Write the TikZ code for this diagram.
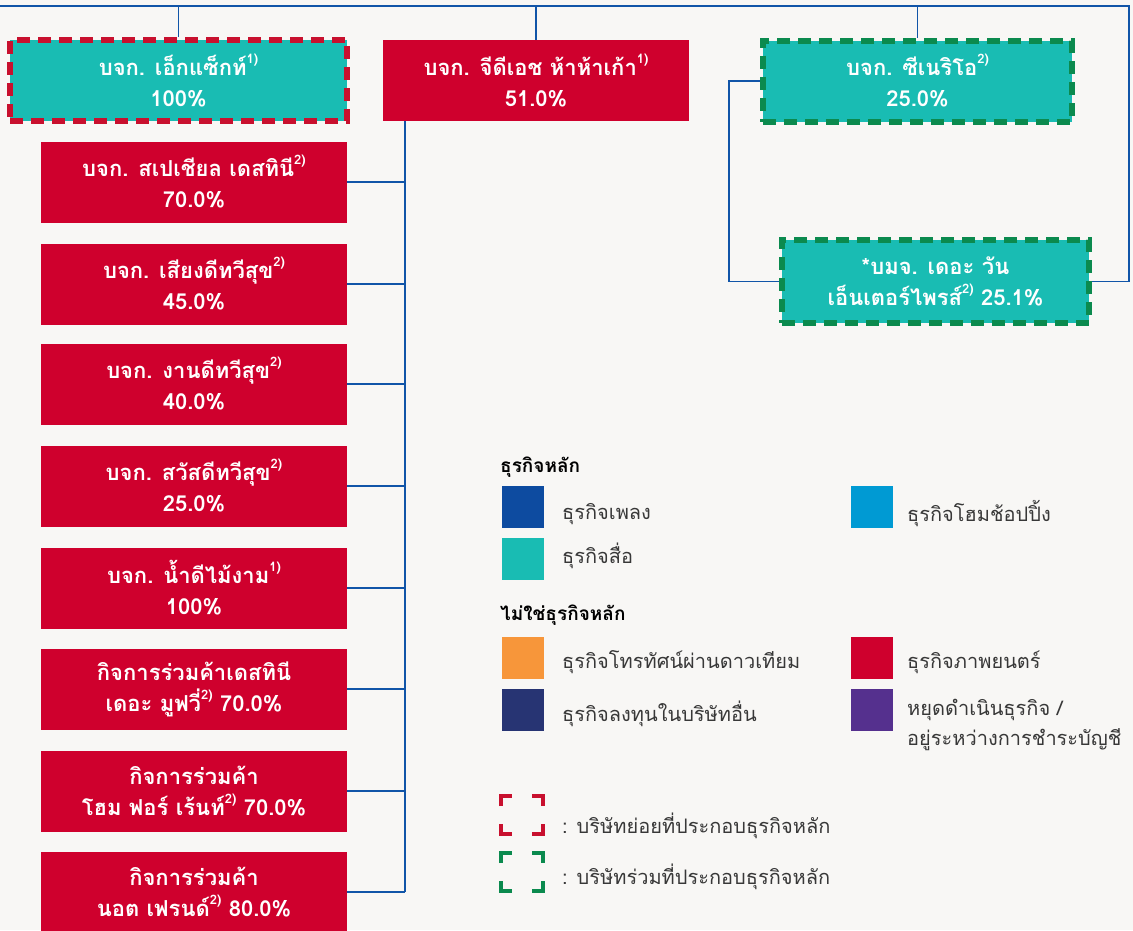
\documentclass[tikz,border=0pt]{standalone}
\usepackage{fontspec}
\setmainfont[Script=Thai]{Loma}
\usetikzlibrary{positioning}
\definecolor{bgc}{HTML}{F8F7F5}
\definecolor{teal}{HTML}{19BCB3}
\definecolor{mred}{HTML}{CF002D}
\definecolor{dred}{HTML}{C8102E}
\definecolor{dgreen}{HTML}{0B8A4E}
\definecolor{lblue}{HTML}{1155A8}
\definecolor{music}{HTML}{0D4BA0}
\definecolor{shop}{HTML}{009AD3}
\definecolor{sat}{HTML}{F7963A}
\definecolor{inv}{HTML}{273473}
\definecolor{stop}{HTML}{55308E}
\definecolor{txt}{HTML}{383838}
\newcommand{\sps}[1]{\raisebox{0.55em}{\fontsize{13}{13}\selectfont #1}}
\tikzset{
  box/.style={rectangle, inner sep=0pt, minimum width=306pt, minimum height=81pt,
     align=center, text=white, font=\fontsize{22}{31}\selectfont\bfseries},
  redbox/.style={box, fill=mred},
  subbox/.style={box, fill=teal, draw=dred, line width=6pt, dash pattern=on 13pt off 8pt},
  assocbox/.style={box, fill=teal, draw=dgreen, line width=6pt, dash pattern=on 13pt off 8pt},
  conn/.style={draw=lblue, line width=1.6pt},
  sq/.style={rectangle, inner sep=0pt, minimum width=42pt, minimum height=42pt},
  lg/.style={anchor=west, text=txt, font=\fontsize{20}{30}\selectfont, inner sep=0pt, align=left},
  lgh/.style={anchor=west, text=black, font=\fontsize{19}{24}\selectfont\bfseries, inner sep=0pt},
  corner/.style={line width=4pt, line cap=butt}
}
\begin{document}
\begin{tikzpicture}[x=1pt,y=-1pt]
\fill[bgc] (0,0) rectangle (1133,930);
\useasboundingbox (0,0) rectangle (1133,930);

% top boxes
\node[subbox, minimum width=337pt] (exact) at (178.5,80.5) {บจก. เอ็กแซ็กท์\sps{1)}\\100\%};
\node[redbox] (gdh) at (536,80.5) {บจก. จีดีเอช ห้าห้าเก้า\sps{1)}\\51.0\%};
\node[assocbox, minimum width=309pt] (scen) at (917.5,81) {บจก. ซีเนริโอ\sps{2)}\\25.0\%};
\node[assocbox, minimum width=307pt, minimum height=83pt] (one) at (935.5,281.5) {*บมจ. เดอะ วัน\\เอ็นเตอร์ไพรส์\sps{2)} 25.1\%};

% left column
\node[redbox] (b1) at (194,182) {บจก. สเปเชียล เดสทินี\sps{2)}\\70.0\%};
\node[redbox] (b2) at (194,284) {บจก. เสียงดีทวีสุข\sps{2)}\\45.0\%};
\node[redbox] (b3) at (194,384) {บจก. งานดีทวีสุข\sps{2)}\\40.0\%};
\node[redbox] (b4) at (194,486) {บจก. สวัสดีทวีสุข\sps{2)}\\25.0\%};
\node[redbox] (b5) at (194,588) {บจก. น้ำดีไม้งาม\sps{1)}\\100\%};
\node[redbox] (b6) at (194,689) {กิจการร่วมค้าเดสทินี\\เดอะ มูฟวี่\sps{2)} 70.0\%};
\node[redbox] (b7) at (194,791) {กิจการร่วมค้า\\โฮม ฟอร์ เร้นท์\sps{2)} 70.0\%};
\node[redbox] (b8) at (194,892) {กิจการร่วมค้า\\นอต เฟรนด์\sps{2)} 80.0\%};

% connectors
\coordinate (tl) at (0,6);
\coordinate (tr) at (1129,6);
\coordinate (sp) at (405,0);
\draw[conn] (tl) -- (tr) |- (one.east);
\draw[conn] (exact.north) -- (exact.north |- tl);
\draw[conn] (gdh.north) -- (gdh.north |- tl);
\draw[conn] (scen.north) -- (scen.north |- tl);
\draw[conn] (scen.west) -- ++(-31,0) |- (one.west);
\draw[conn] (sp |- gdh.south) -- (sp |- b8.east);
\foreach \b in {b1,b2,b3,b4,b5,b6,b7,b8} {\draw[conn] (\b.east) -- (\b.east -| sp);}

% redraw box borders over connectors
\node[subbox, minimum width=337pt] at (exact) {บจก. เอ็กแซ็กท์\sps{1)}\\100\%};
\node[assocbox, minimum width=309pt] at (scen) {บจก. ซีเนริโอ\sps{2)}\\25.0\%};
\node[assocbox, minimum width=307pt, minimum height=83pt] at (one) {*บมจ. เดอะ วัน\\เอ็นเตอร์ไพรส์\sps{2)} 25.1\%};

% legend
\node[lgh] (h1) at (500,467) {ธุรกิจหลัก};
\node[sq, fill=music] (s1) at (523,507) {};
\node[sq, fill=teal] (s2) at (523,559) {};
\node[sq, fill=shop] (s3) at (872,507) {};
\node[lg] (t1) at (562,514) {ธุรกิจเพลง};
\node[lg] (t2) at (562,556) {ธุรกิจสื่อ};
\node[lg] (t3) at (907,514) {ธุรกิจโฮมช้อปปิ้ง};

\node[lgh] (h2) at (500,615) {ไม่ใช่ธุรกิจหลัก};
\node[sq, fill=sat] (s4) at (523,658) {};
\node[sq, fill=mred] (s5) at (872,658) {};
\node[sq, fill=inv] (s6) at (523,710) {};
\node[sq, fill=stop] (s7) at (872,710) {};
\node[lg] (t4) at (562,662) {ธุรกิจโทรทัศน์ผ่านดาวเทียม};
\node[lg] (t5) at (907,662) {ธุรกิจภาพยนตร์};
\node[lg] (t6) at (562,714) {ธุรกิจลงทุนในบริษัทอื่น};
\node[lg, anchor=north west] (t7) at (907,699) {หยุดดำเนินธุรกิจ /\\อยู่ระหว่างการชำระบัญชี};

% corner markers
\foreach \c/\yy in {dred/794, dgreen/851} {
  \begin{scope}[shift={(499,\yy)}]
  \draw[corner, draw=\c] (2,12) -- (2,2) -- (13,2);
  \draw[corner, draw=\c] (33,2) -- (44,2) -- (44,12);
  \draw[corner, draw=\c] (2,30) -- (2,40) -- (13,40);
  \draw[corner, draw=\c] (33,40) -- (44,40) -- (44,30);
  \end{scope}
}
\node[lg] (k1) at (562,826) {: บริษัทย่อยที่ประกอบธุรกิจหลัก};
\node[lg] (k2) at (562,877) {: บริษัทร่วมที่ประกอบธุรกิจหลัก};
\end{tikzpicture}
\end{document}
